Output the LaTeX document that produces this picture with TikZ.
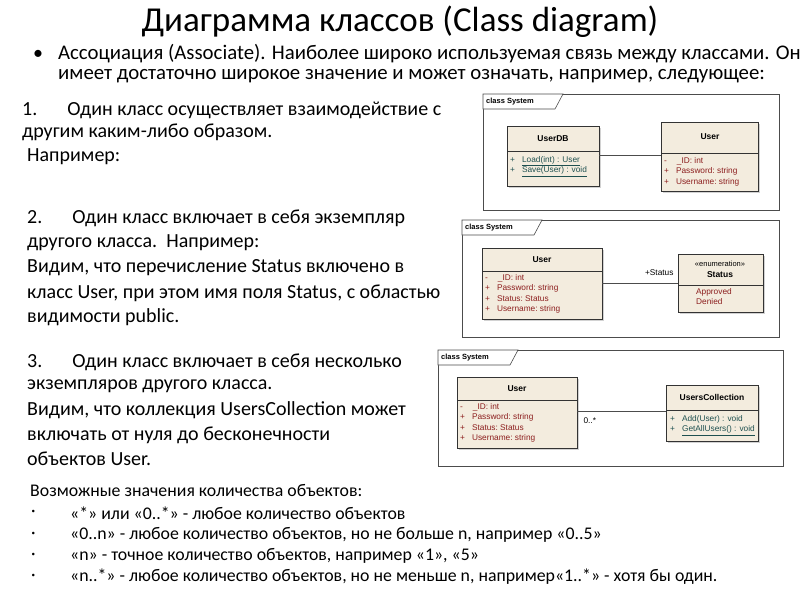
\documentclass[tikz,border=0pt]{standalone}
\usepackage{fontspec}
\setmainfont{Carlito}
\newfontfamily\umlf{Liberation Sans}
\usetikzlibrary{shadows}
\definecolor{boxfill}{RGB}{243,236,222}
\definecolor{attr}{RGB}{140,30,30}
\definecolor{meth}{RGB}{30,80,80}
\tikzset{
 frame/.style={draw=black!70,line width=0.7pt,fill=white},
 cls/.style={draw=black!80,fill=boxfill,line width=0.6pt,drop shadow={opacity=0.35,shadow xshift=2pt,shadow yshift=-2pt}},
 hd/.style={font=\umlf\bfseries\fontsize{8.5}{10}\selectfont},
 attrtxt/.style={font=\umlf\fontsize{8.3}{10.5}\selectfont,text=attr,align=left,anchor=north west,inner sep=0pt},
 mt/.style={font=\umlf\fontsize{8.3}{10.5}\selectfont,text=meth,align=left,anchor=north west,inner sep=0pt},
 body/.style={font=\fontsize{20}{24}\selectfont,anchor=west,inner sep=0pt},
 lst/.style={font=\fontsize{17.8}{20}\selectfont,anchor=west,inner sep=0pt},
 assoc/.style={draw=black!70,line width=0.7pt}
}
\newcommand{\tabsys}[2]{\draw[black!70,line width=0.6pt,fill=white] (#1,#2) -- ++(80,0) -- ++(-8,15) -- ++(-72,0) -- cycle;
 \node[font=\umlf\bfseries\fontsize{7.5}{8}\selectfont,anchor=west,inner sep=0pt] at (#1+3,#2+7.5) {class System};}
\begin{document}
\begin{tikzpicture}[x=1pt,y=-1pt]
\useasboundingbox (0,0) rectangle (800,600);
\node[font=\fontsize{35}{36}\selectfont] (title) at (400,22) {Диаграмма классов (Class diagram)};
\node[body,anchor=west] (b) at (33,55) {•};
\node[body,align=left,anchor=north west,font=\fontsize{20.8}{20}\selectfont] (assoc) at (58,44) {Ассоциация (Associate). Наиболее широко используемая связь между классами. Она\\ имеет достаточно широкое значение и может означать, например, следующее:};
% left texts
\node[body] (t1a) at (22,110) {1.\hspace{30pt}Один класс осуществляет взаимодействие с};
\node[body] (t1b) at (22,132) {другим каким-либо образом.};
\node[body] (t1c) at (27,157) {Например:};
\node[body] (t2a) at (27,218) {2.\hspace{30pt}Один класс включает в себя экземпляр};
\node[body] (t2b) at (27,243) {другого класса.\ \ Например:};
\node[body] (t2c) at (27,268) {Видим, что перечисление Status включено в};
\node[body] (t2d) at (27,293) {класс User, при этом имя поля Status, с областью};
\node[body] (t2e) at (27,317) {видимости public.};
\node[body] (t3a) at (27,362) {3.\hspace{30pt}Один класс включает в себя несколько};
\node[body] (t3b) at (27,386) {экземпляров другого класса.};
\node[body] (t3c) at (27,410) {Видим, что коллекция UsersCollection может};
\node[body] (t3d) at (27,435) {включать от нуля до бесконечности};
\node[body] (t3e) at (27,459) {объектов User.};
% bottom list
\node[lst] (l0) at (30,491) {Возможные значения количества объектов:};
\foreach \y/\t in {513/{«*» или «0..*» - любое количество объектов},535/{«0..n» - любое количество объектов, но не больше n, например «0..5»},556/{«n» - точное количество объектов, например «1», «5»},577/{«n..*» - любое количество объектов, но не меньше n, например«1..*» - хотя бы один.}}{
 \node[lst] at (31,\y) {·};
 \node[lst] at (70,\y) {\t};}
% panel 1
\draw[frame] (483,94) rectangle (779,210);
\tabsys{483}{94}
\draw[cls] (507,126) rectangle (599,186);
\draw[black!80] (507,151) -- (599,151);
\node[hd] (userdb) at (553,139) {UserDB};
\node[mt] at (510,156) {+\hspace{7pt}\underline{Load(int) : User}\\+\hspace{7pt}\underline{Save(User) : void}};
\draw[cls] (661,122) rectangle (758,191);
\draw[black!80] (661,153) -- (758,153);
\node[hd] (user1) at (710,137) {User};
\node[attrtxt] at (664,157) {-\hspace{10pt}\_ID:\ int\\+\hspace{7pt}Password:\ string\\+\hspace{7pt}Username:\ string};
\coordinate (p1a) at (599,155); \coordinate (p1b) at (661,155);
\draw[assoc] (p1a) -- (p1b);
% panel 2
\draw[frame] (462,220) rectangle (779,337);
\tabsys{462}{220}
\draw[cls] (482,248) rectangle (602,319);
\draw[black!80] (482,271) -- (602,271);
\node[hd] (user2) at (542,260) {User};
\node[attrtxt] at (485,274) {-\hspace{10pt}\_ID:\ int\\+\hspace{7pt}Password:\ string\\+\hspace{7pt}Status:\ Status\\+\hspace{7pt}Username:\ string};
\draw[cls] (678,254) rectangle (763,312);
\draw[black!80] (678,285) -- (763,285);
\node[font=\umlf\fontsize{7.5}{8}\selectfont] at (720,264) {«enumeration»};
\node[hd] (status) at (720,275) {Status};
\node[attrtxt] at (696,288) {Approved\\Denied};
\coordinate (p2a) at (602,283); \coordinate (p2b) at (678,283);
\draw[assoc] (p2a) -- (p2b);
\node[font=\umlf\fontsize{8.3}{9}\selectfont,anchor=east] at (677,273) {+Status};
% panel 3
\draw[frame] (438,350) rectangle (783,466);
\tabsys{438}{350}
\draw[cls] (457,377) rectangle (577,448);
\draw[black!80] (457,400) -- (577,400);
\node[hd] (user3) at (517,389) {User};
\node[attrtxt] at (460,403) {-\hspace{10pt}\_ID:\ int\\+\hspace{7pt}Password:\ string\\+\hspace{7pt}Status:\ Status\\+\hspace{7pt}Username:\ string};
\draw[cls] (666,385) rectangle (758,441);
\draw[black!80] (666,410) -- (758,410);
\node[hd] (uc) at (712,397) {UsersCollection};
\node[mt] at (670,415) {+\hspace{7pt}Add(User) : void\\+\hspace{7pt}\underline{GetAllUsers() : void}};
\coordinate (p3a) at (577,411); \coordinate (p3b) at (666,411);
\draw[assoc] (p3a) -- (p3b);
\node[font=\umlf\fontsize{8.3}{9}\selectfont,anchor=west] at (580,421) {0..*};
\end{tikzpicture}
\end{document}
